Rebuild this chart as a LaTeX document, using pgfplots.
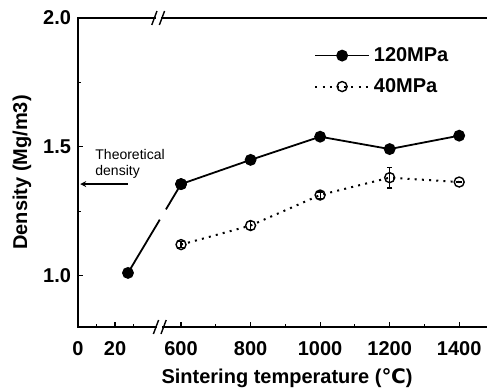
\documentclass[border=0pt]{standalone}
\usepackage{fontspec}
\setmainfont{Liberation Sans}
\newfontfamily\djv{DejaVu Sans}
\usepackage{pgfplots}
\pgfplotsset{compat=1.18}
\usetikzlibrary{arrows.meta,calc}
\begin{document}
\begin{tikzpicture}
\begin{axis}[
  name=ax,
  scale only axis,
  width=204.5pt, height=154.5pt,
  clip=false,
  x coord trafo/.code={\pgfmathparse{#1<300 ? 1.85*#1 : 103+0.3475*(#1-600)}},
  xmin=0, xmax=1480,
  ymin=0.8, ymax=2.0,
  axis line style={draw=none},
  xtick={0,20,600,800,1000,1200,1400},
  xticklabels={0,20,600,800,1000,1200,1400},
  minor xtick={10,30,700,900,1100,1300},
  ytick={1.0,1.5,2.0},
  yticklabels={1.0,1.5,2.0},
  minor ytick={1.25,1.75},
  xtick pos=left, ytick pos=left,
  tick align=inside,
  major tick length=2.5pt, minor tick length=1.5pt,
  tick style={black, line width=0.6pt},
  ticklabel style={font=\fontsize{10}{12}\selectfont\bfseries},
  xticklabel style={yshift=-3.5pt},
  xlabel={Sintering temperature ({\djv ℃})},
  ylabel={Density (Mg/m3)},
  label style={font=\fontsize{10}{12}\selectfont\bfseries},
  xlabel style={at={(axis description cs:0.511,-0.165)}, anchor=center},
  ylabel style={at={(axis description cs:-0.137,0.5)}, anchor=center},
  legend style={at={(0.577,0.92)}, anchor=north west, draw=none, fill=none,
    font=\fontsize{10}{12}\selectfont\bfseries, row sep=3pt, inner sep=0pt},
  legend cell align=left,
  legend image code/.code={\draw[mark repeat=2,mark phase=2,#1] plot coordinates {(0cm,0cm) (0.47cm,0cm) (0.94cm,0cm)};},
]
% axis frame (left, bottom, top)
\draw[line width=0.9pt] (rel axis cs:1,1) -- (rel axis cs:0,1) -- (rel axis cs:0,0) -- (rel axis cs:1,0);
% breaks
\fill[white] ($(rel axis cs:0.2,0)+(-1.2pt,-1.2pt)$) rectangle ($(rel axis cs:0.2,0)+(1.2pt,1.2pt)$);
\draw[line width=0.7pt] ($(rel axis cs:0.2,0)+(-3.2pt,-3.5pt)$) -- ($(rel axis cs:0.2,0)+(-0.6pt,3.5pt)$);
\draw[line width=0.7pt] ($(rel axis cs:0.2,0)+(0.6pt,-3.5pt)$) -- ($(rel axis cs:0.2,0)+(3.2pt,3.5pt)$);
\fill[white] ($(rel axis cs:0.196,1)+(-1.2pt,-1.2pt)$) rectangle ($(rel axis cs:0.196,1)+(1.2pt,1.2pt)$);
\draw[line width=0.7pt] ($(rel axis cs:0.196,1)+(-3.2pt,-3.5pt)$) -- ($(rel axis cs:0.196,1)+(-0.6pt,3.5pt)$);
\draw[line width=0.7pt] ($(rel axis cs:0.196,1)+(0.6pt,-3.5pt)$) -- ($(rel axis cs:0.196,1)+(3.2pt,3.5pt)$);

% broken segment of 120 MPa
\addplot[black, line width=0.9pt, dash pattern=on 31pt off 6pt on 40pt, mark=*, mark size=2.5pt, mark options={solid}, forget plot]
  coordinates {(27,1.01) (600,1.355)};
\addplot[black, line width=0.9pt, mark=*, mark size=2.5pt]
  coordinates {(600,1.355) (800,1.449) (1000,1.539) (1200,1.491) (1400,1.543)};
\addlegendentry{120MPa}
\addplot[black, line width=1pt, dash pattern=on 1pt off 2.6pt, mark=o, mark size=2.5pt,
  mark options={solid, line width=0.7pt},
  error bars/.cd, y dir=both, y explicit,
  error bar style={solid, line width=0.6pt},
  error mark options={rotate=90, mark size=1.4pt, solid, line width=0.6pt}]
  coordinates {(600,1.12) +- (0,0.012) (800,1.194) +- (0,0.015) (1000,1.3125) +- (0,0.012) (1200,1.38) +- (0,0.04) (1400,1.363) +- (0,0)};
\addlegendentry{40MPa}

% theoretical density arrow
\draw[line width=0.7pt, -{Stealth[length=3pt,width=3pt]}] (axis cs:27,1.355) -- (axis cs:1.2,1.355);
\node[anchor=west, align=left, font=\fontsize{7}{8}\selectfont, inner sep=0pt] at (axis cs:9.2,1.434) {Theoretical\\density};
\end{axis}
\pgfresetboundingbox
\path[use as bounding box] ($(ax.south west)+(-39pt,-31.5pt)$) rectangle ($(ax.north east)+(0pt,9pt)$);
\end{tikzpicture}
\end{document}
